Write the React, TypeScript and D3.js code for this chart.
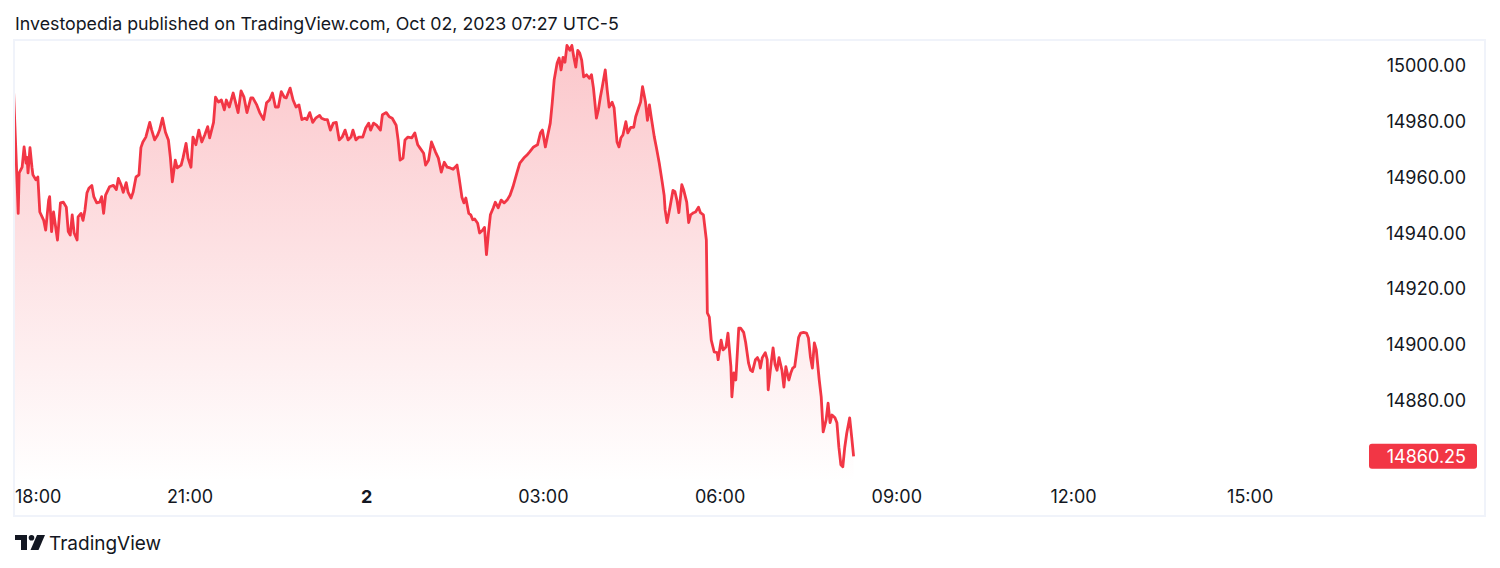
import React, { useMemo } from 'react';
import * as d3 from 'd3';

// minutes after 18:00 (Oct 1) and last price
const minutes = [
  0, 3, 5, 6, 9, 11, 13, 14, 15, 17, 19, 20, 23, 25, 27, 31, 33, 36, 37, 39,
  41, 45, 48, 51, 54, 56, 58, 60, 62, 65, 66, 69, 71, 73, 75, 77, 80, 82, 85, 88,
  90, 92, 94, 98, 102, 105, 107, 110, 112, 115, 117, 120, 122, 125, 128, 130, 132, 135, 139, 141,
  144, 147, 149, 152, 155, 158, 160, 162, 165, 167, 171, 173, 176, 178, 181, 183, 186, 189, 192, 195,
  198, 200, 204, 206, 209, 212, 215, 217, 220, 224, 227, 229, 232, 235, 238, 242, 244, 248, 251, 255,
  258, 261, 264, 267, 270, 273, 276, 278, 282, 285, 288, 291, 294, 297, 299, 302, 305, 308, 312, 314,
  317, 320, 323, 326, 329, 332, 335, 338, 341, 344, 346, 349, 352, 356, 359, 362, 364, 367, 370, 374,
  376, 380, 383, 386, 390, 392, 394, 397, 399, 402, 406, 409, 412, 414, 418, 420, 423, 426, 430, 433,
  436, 439, 442, 445, 448, 452, 454, 457, 459, 461, 464, 466, 468, 470, 473, 475, 478, 480, 482, 484,
  486, 489, 491, 494, 497, 500, 503, 506, 509, 513, 516, 520, 523, 526, 530, 534, 537, 539, 542, 544,
  547, 549, 551, 554, 556, 558, 560, 562, 564, 567, 569, 571, 573, 575, 577, 579, 581, 584, 587, 589,
  591, 594, 596, 598, 600, 603, 605, 607, 610, 612, 615, 617, 619, 621, 624, 626, 629, 632, 634, 637,
  639, 641, 644, 646, 648, 650, 653, 655, 658, 661, 663, 664, 666, 669, 672, 674, 676, 678, 681, 683,
  686, 688, 690, 693, 695, 698, 700, 703, 706, 707, 709, 711, 714, 717, 718, 721, 723, 726, 728, 731,
  732, 734, 736, 739, 741, 744, 746, 749, 751, 753, 756, 758, 760, 761, 763, 766, 768, 769, 772, 774,
  776, 778, 780, 783, 785, 787, 790, 792, 794, 796, 798, 800, 802, 805, 808, 810, 812, 814, 816, 818,
  821, 823, 825, 828, 830, 832, 834, 837, 839, 841, 843, 845, 847, 849, 852, 854, 856,
];

const prices = [
  14993, 14966, 14947, 14961.5, 14963.5, 14970.75, 14965, 14967, 14961.5, 14970.5, 14963.5, 14960.75, 14959, 14960, 14947.5, 14944.5, 14941, 14951.75, 14953, 14940.5,
  14947.5, 14937.5, 14950.75, 14951, 14949.25, 14940.5, 14939.25, 14946.5, 14940, 14937.5, 14945.75, 14947, 14944.5, 14948.25, 14954.25, 14956, 14957, 14953, 14950.75, 14951,
  14953, 14947, 14953.5, 14956.5, 14957, 14955.5, 14959.5, 14957, 14954.5, 14958, 14954.5, 14952.5, 14954.5, 14960, 14960.75, 14970.5, 14972.5, 14974.25, 14979.5, 14976.75,
  14973.25, 14975, 14976.75, 14981, 14976, 14973.25, 14967, 14958.25, 14966, 14963.25, 14964.25, 14967, 14972, 14966.75, 14963.5, 14974.25, 14971.5, 14976.75, 14972.5, 14975,
  14978, 14974, 14979.5, 14988.5, 14986.75, 14987.5, 14984, 14987.5, 14985, 14990, 14985.75, 14983, 14990.75, 14988.5, 14983, 14988.25, 14988.25, 14985.75, 14983, 14980.5,
  14986.5, 14987.5, 14990, 14985, 14985, 14990.5, 14988.5, 14988.25, 14991.75, 14987.5, 14985, 14985.75, 14980.5, 14981, 14980.5, 14983, 14979.5, 14981, 14982, 14981,
  14980.5, 14980.5, 14976.75, 14979.25, 14979.5, 14973.25, 14974.25, 14976.75, 14973.25, 14974.25, 14976.75, 14973.25, 14974.25, 14974.25, 14977.5, 14979.25, 14976.75, 14979.25, 14978.5, 14976.75,
  14982.25, 14983, 14981.5, 14981, 14978.5, 14973.25, 14966, 14966.75, 14973.25, 14974.25, 14974, 14975.75, 14971.5, 14970.5, 14968.5, 14964.25, 14966, 14972.5, 14969, 14966.75,
  14961.75, 14965.25, 14963.5, 14963.25, 14962.75, 14964.25, 14960, 14952.75, 14950.75, 14952.5, 14947, 14946.5, 14944.75, 14945, 14943.5, 14940, 14941, 14942, 14932.25, 14940,
  14946.5, 14949, 14951, 14949, 14951.75, 14950.75, 14951.75, 14953.5, 14956.5, 14961.5, 14965, 14966.75, 14967.75, 14969, 14970.75, 14971.5, 14975.75, 14976.75, 14970.75, 14974.25,
  14979.25, 14986.5, 14994.75, 15000.75, 15002.5, 14998.25, 15002.75, 15001, 15007, 15005.25, 15007, 15002.75, 14999.25, 15005.25, 15004.25, 15001.75, 14995.75, 14996.5, 14995.25, 14996.5,
  14991.75, 14981, 14984, 14988.5, 14992.25, 14998.25, 14991, 14985, 14986.75, 14984.75, 14972.5, 14970.75, 14974, 14975, 14979.75, 14975.75, 14977.75, 14977.75, 14981.5, 14984.75,
  14986.75, 14992.25, 14986.75, 14980.25, 14985.75, 14981, 14974.25, 14970.75, 14965, 14958.25, 14953.5, 14948.25, 14943.75, 14949.25, 14955.25, 14954.75, 14951.75, 14947.25, 14957.25, 14955.25,
  14951, 14943.75, 14946.5, 14947.25, 14947.5, 14949.25, 14947.25, 14946.5, 14937.5, 14911.5, 14910, 14901.75, 14897.5, 14897.25, 14894.75, 14901.75, 14898.25, 14899.25, 14904.25, 14892.25,
  14881.5, 14890, 14887.5, 14906, 14906, 14904.5, 14901, 14893.5, 14891, 14890.5, 14894.75, 14895.5, 14894, 14891.75, 14895.5, 14897.25, 14894.75, 14884, 14893.5, 14899,
  14893, 14891, 14895.5, 14891, 14885, 14892.25, 14887.5, 14890, 14891.75, 14892.25, 14897.5, 14902.75, 14904.25, 14904.5, 14904.25, 14902.5, 14895.75, 14891.75, 14900.75, 14898.25,
  14887.5, 14881.5, 14869, 14873.25, 14879.25, 14872.25, 14875, 14874, 14872.25, 14863.5, 14857.25, 14856.5, 14863.5, 14868.5, 14874, 14867.25, 14860.25,
];

const priceTicks = [14880, 14900, 14920, 14940, 14960, 14980, 15000];
const timeTicks = [0, 180, 360, 540, 720, 900, 1080, 1260];
const timeLabels = ['18:00', '21:00', '2', '03:00', '06:00', '09:00', '12:00', '15:00'];

const title = 'Investopedia published on TradingView.com, Oct 02, 2023 07:27 UTC-5';
const lastPrice = 14860.25;

const W = 1500;
const H = 568;
const frame = { left: 14, top: 40, right: 1485, bottom: 516 };
const plot = { left: 13.3, right: 1368, top: 40, bottom: 482 };
const RED = '#F23645';
const FONT = 'Inter, "Noto Sans", sans-serif';

const App: React.FC = () => {
  const data = useMemo(() => minutes.map((m, i) => ({ m, p: prices[i] })), []);

  const x = d3.scaleLinear().domain([0, 23 * 60]).range([plot.left, plot.right]);
  const y = d3.scaleLinear().domain([14851.07, 15008.93]).range([plot.bottom, plot.top]);

  const line = d3.line<{ m: number; p: number }>()
    .x(d => x(d.m))
    .y(d => y(d.p));

  const area = d3.area<{ m: number; p: number }>()
    .x(d => x(d.m))
    .y0(plot.bottom)
    .y1(d => y(d.p));

  const topY = y(d3.max(prices) as number);

  return (
    <svg
      width={W}
      height={H}
      style={{ position: 'absolute', left: 0, top: 0, background: '#fff' }}
      fontFamily={FONT}
    >
      <defs>
        <linearGradient id="fillGrad" gradientUnits="userSpaceOnUse" x1="0" x2="0" y1={topY} y2={plot.bottom}>
          <stop offset="0%" stopColor={RED} stopOpacity={0.28} />
          <stop offset="100%" stopColor={RED} stopOpacity={0} />
        </linearGradient>
        <clipPath id="plotClip">
          <rect x={frame.left + 1} y={frame.top + 1} width={plot.right - frame.left} height={plot.bottom - frame.top} />
        </clipPath>
      </defs>

      <text x={15} y={30} fontSize={17.8} fill="#131722">{title}</text>

      <rect
        x={frame.left}
        y={frame.top}
        width={frame.right - frame.left}
        height={frame.bottom - frame.top}
        fill="none"
        stroke="#F0F3FA"
        strokeWidth={2}
      />

      <g clipPath="url(#plotClip)">
        <path d={area(data) || ''} fill="url(#fillGrad)" />
        <path d={line(data) || ''} fill="none" stroke={RED} strokeWidth={2.8} strokeLinejoin="round" />
      </g>

      {/* price scale */}
      {priceTicks.map(t => (
        <text key={t} x={1466} y={y(t) + 6.5} fontSize={18} textAnchor="end" fill="#131722">
          {t.toFixed(2)}
        </text>
      ))}

      {/* last price badge */}
      <rect x={1369} y={y(lastPrice) - 12.5} width={108} height={25} rx={3} fill={RED} />
      <text x={1466} y={y(lastPrice) + 6.5} fontSize={18} textAnchor="end" fill="#fff">
        {lastPrice.toFixed(2)}
      </text>

      {/* time scale */}
      {timeTicks.map((t, i) => {
        const px = x(t);
        const isDay = timeLabels[i].length < 3;
        const clipped = px - 25 < frame.left;
        return (
          <text
            key={t}
            x={clipped ? 15 : px}
            y={503}
            fontSize={18}
            textAnchor={clipped ? 'start' : 'middle'}
            fontWeight={isDay ? 700 : 400}
            fill="#131722"
          >
            {timeLabels[i]}
          </text>
        );
      })}

      {/* TradingView mark */}
      <g fill="#131722">
        <rect x={15} y={535} width={12} height={5} />
        <rect x={21} y={535} width={6} height={15} />
        <circle cx={31.5} cy={537.8} r={2.8} />
        <polygon points="37,535 45,535 38.5,550 30.5,550" />
      </g>
      <text x={49} y={550} fontSize={19} fill="#131722">TradingView</text>
    </svg>
  );
};

export default App;
